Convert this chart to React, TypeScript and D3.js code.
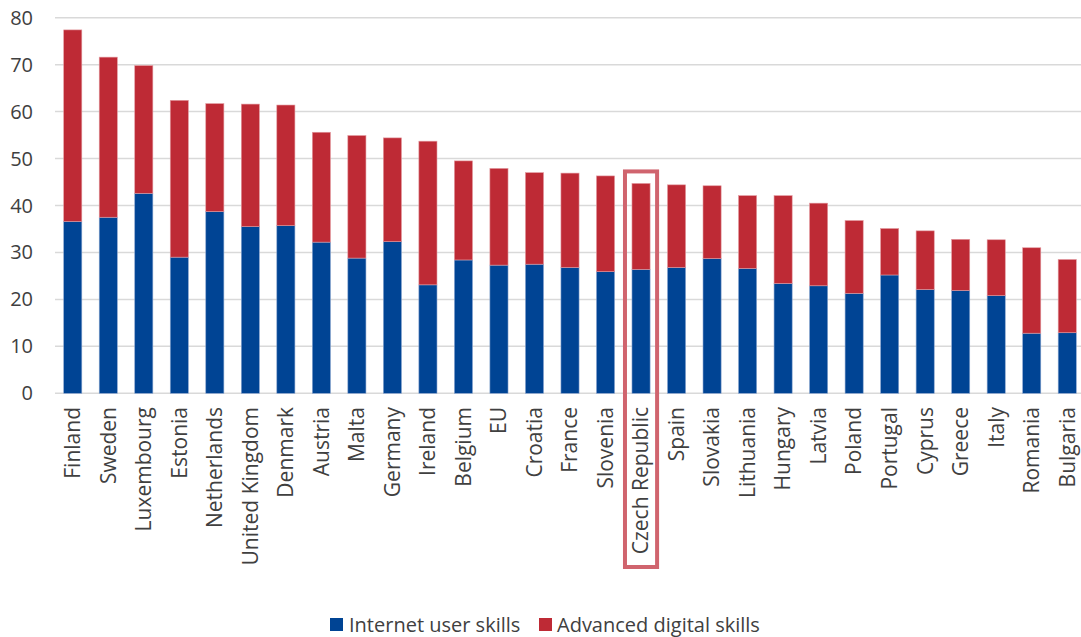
import React from "react";
import * as d3 from "d3";

const countries = ["Finland","Sweden","Luxembourg","Estonia","Netherlands","United Kingdom","Denmark","Austria","Malta","Germany","Ireland","Belgium","EU","Croatia","France","Slovenia","Czech Republic","Spain","Slovakia","Lithuania","Hungary","Latvia","Poland","Portugal","Cyprus","Greece","Italy","Romania","Bulgaria"];
const internetUser = [36.6,37.5,42.6,29.0,38.7,35.5,35.7,32.2,28.8,32.3,23.1,28.4,27.3,27.5,26.8,25.9,26.4,26.8,28.7,26.6,23.4,22.9,21.3,25.2,22.1,21.9,20.8,12.8,12.9];
const advanced = [40.8,34.1,27.2,33.4,23.0,26.1,25.7,23.4,26.1,22.1,30.6,21.1,20.6,19.5,20.1,20.4,18.3,17.6,15.5,15.5,18.7,17.6,15.5,9.9,12.5,10.9,11.9,18.2,15.6];
const yTicks = [0,10,20,30,40,50,60,70,80];
const seriesNames = ["Internet user skills","Advanced digital skills"];
const colors = ["#004494","#BE2A35"];
const highlight = "Czech Republic";

export default function App() {
  const W = 1081, H = 637;
  const m = { left: 55, right: 1085, top: 17.7, bottom: 393.3 };
  const x = d3.scaleBand<string>().domain(countries).range([m.left, m.right]).paddingInner(0.49).paddingOuter(0.245);
  const y = d3.scaleLinear().domain([0, 80]).range([m.bottom, m.top]);
  const font = "'Open Sans', Lato, sans-serif";
  const txt = "#404040";
  const hx = x(highlight)!;
  const hi = countries.indexOf(highlight);
  return (
    <svg width={W} height={H} style={{ position: "absolute", left: 0, top: 0 }} fontFamily={font}>
      {yTicks.map(t => (
        <g key={t}>
          <line x1={m.left} x2={W} y1={y(t)} y2={y(t)} stroke="#d9d9d9" strokeWidth={1.5} />
          <text x={33} y={y(t)} dy="0.35em" textAnchor="end" fontSize={20} fill={txt}>{t}</text>
        </g>
      ))}
      {countries.map((c, i) => (
        <g key={c}>
          <rect x={x(c)} width={x.bandwidth()} y={y(internetUser[i])} height={y(0) - y(internetUser[i])} fill={colors[0]} stroke="#8aa6d0" strokeWidth={0.6} />
          <rect x={x(c)} width={x.bandwidth()} y={y(internetUser[i] + advanced[i])} height={y(internetUser[i]) - y(internetUser[i] + advanced[i])} fill={colors[1]} stroke="#e39aa0" strokeWidth={0.6} />
          <text transform={`translate(${x(c)! + x.bandwidth() / 2},407) rotate(-90)`} dy="0.35em" textAnchor="end" fontSize={21} fill={txt}>{c}</text>
        </g>
      ))}
      <rect x={hx - 7} y={y(internetUser[hi] + advanced[hi]) - 12} width={x.bandwidth() + 14} height={567 - (y(internetUser[hi] + advanced[hi]) - 12)} fill="none" stroke="#D0646E" strokeWidth={4} />
      <g>
        <rect x={330} y={618} width={13} height={13} fill={colors[0]} />
        <text x={349} y={624.5} dy="0.35em" fontSize={20} fill={txt}>{seriesNames[0]}</text>
        <rect x={539} y={618} width={13} height={13} fill={colors[1]} />
        <text x={557} y={624.5} dy="0.35em" fontSize={20} fill={txt}>{seriesNames[1]}</text>
      </g>
    </svg>
  );
}
